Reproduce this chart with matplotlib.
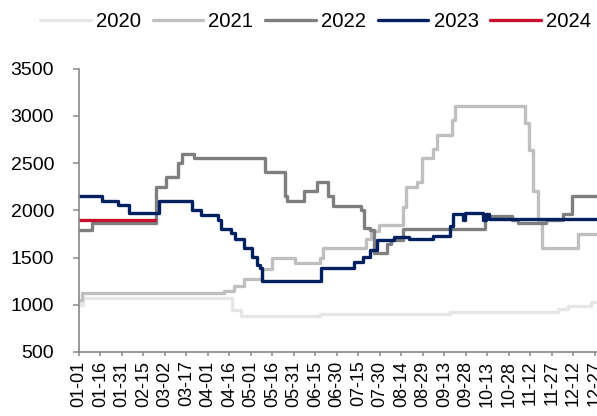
import matplotlib
matplotlib.use("Agg")
import matplotlib.pyplot as plt
import matplotlib.dates as mdates
from matplotlib.lines import Line2D
import datetime as dt

plt.rcParams['font.family'] = ['Liberation Sans', 'DejaVu Sans']

# ---- data: change points (MM-DD, value) for each year's step series ----
years = ["2020", "2021", "2022", "2023", "2024"]
colors = ["#E6E6E6", "#BFBFBF", "#7F7F7F", "#002060", "#C8102E"]

dates_2020 = ["01-01", "01-02", "01-04", "04-18", "04-24", "06-18", "09-17", "12-01", "12-08", "12-24", "12-31"]
vals_2020 = [1050, 1000, 1075, 940, 880, 900, 920, 960, 990, 1030, 1030]

dates_2021 = ["01-01", "01-03", "04-12", "04-19", "04-26", "05-09", "05-16", "06-01", "06-18", "06-20",
              "07-20", "07-24", "07-29", "08-15", "08-17", "08-25", "08-28", "09-05", "09-08", "09-18",
              "09-20", "11-08", "11-11", "11-14", "11-17", "11-20", "12-15", "12-31"]
vals_2021 = [1050, 1120, 1150, 1200, 1270, 1380, 1500, 1440, 1500, 1600,
             1700, 1780, 1840, 2030, 2250, 2300, 2550, 2650, 2800, 2950,
             3100, 2920, 2640, 2200, 1900, 1600, 1750, 1750]

dates_2022 = ["01-01", "01-10", "02-24", "03-03", "03-11", "03-14", "03-22", "05-11", "05-25", "05-26",
              "06-07", "06-16", "06-24", "06-27", "07-17", "07-19", "07-23", "07-26", "08-04", "08-07",
              "08-15", "10-11", "10-30", "11-03", "11-23", "12-05", "12-11", "12-31"]
vals_2022 = [1790, 1870, 2250, 2350, 2500, 2600, 2550, 2400, 2150, 2100,
             2200, 2300, 2150, 2050, 2000, 1810, 1790, 1550, 1640, 1690,
             1800, 1940, 1900, 1860, 1900, 1960, 2150, 2150]

dates_2023 = ["01-01", "01-17", "01-28", "02-05", "02-26", "03-21", "03-27", "04-08", "04-10", "04-17",
              "04-20", "04-26", "05-02", "05-05", "05-07", "05-09", "06-19", "07-12", "07-18", "07-23",
              "07-28", "08-09", "08-19", "09-05", "09-17", "09-19", "09-26", "09-27", "10-10", "10-12",
              "10-14", "12-31"]
vals_2023 = [2150, 2100, 2060, 1970, 2100, 2000, 1950, 1900, 1800, 1760,
             1700, 1600, 1510, 1420, 1390, 1250, 1390, 1450, 1510, 1580,
             1680, 1720, 1700, 1725, 1830, 1960, 1900, 1975, 1900, 1960,
             1910, 1910]

dates_2024 = ["01-01", "02-23"]
vals_2024 = [1900, 1900]

tick_labels = ["01-01", "01-16", "01-31", "02-15", "03-02", "03-17", "04-01", "04-16", "05-01",
               "05-16", "05-31", "06-15", "06-30", "07-15", "07-30", "08-14", "08-29", "09-13",
               "09-28", "10-13", "10-28", "11-12", "11-27", "12-12", "12-27"]
y_ticks = [500, 1000, 1500, 2000, 2500, 3000, 3500]

BASE_YEAR = 2023  # common non-leap year used to place month-day values


def to_dt(md):
    m, d = md.split("-")
    return dt.datetime(BASE_YEAR, int(m), int(d))


series = [(dates_2020, vals_2020), (dates_2021, vals_2021), (dates_2022, vals_2022),
          (dates_2023, vals_2023), (dates_2024, vals_2024)]

fig = plt.figure(figsize=(5.97, 4.16), dpi=100)
ax = fig.add_axes([79 / 597, 1 - 352 / 416, (600.7 - 79) / 597, (352 - 68.5) / 416])

lw = 2.4
for (ds, vs), c in zip(series, colors):
    ax.plot([to_dt(s) for s in ds], vs, drawstyle="steps-post", color=c, lw=lw,
            solid_joinstyle="round", solid_capstyle="round")

ax.set_ylim(500, 3500)
ax.set_yticks(y_ticks)
ax.set_xlim(to_dt("01-01"), to_dt("12-31"))
ax.set_xticks([to_dt(s) for s in tick_labels])
ax.set_xticklabels(tick_labels, rotation=90, fontsize=13)
ax.tick_params(axis="y", labelsize=14, length=4.5, width=1.1, color="#888888", pad=13.5)
ax.tick_params(axis="x", length=3.2, width=1.1, color="#888888", pad=3)

for side in ["top", "right"]:
    ax.spines[side].set_visible(False)
for side in ["left", "bottom"]:
    ax.spines[side].set_color("#888888")
    ax.spines[side].set_linewidth(1.2)

handles = [Line2D([0], [0], color=c, lw=lw, solid_capstyle="round") for c in colors]
fig.legend(handles, years, loc="center", bbox_to_anchor=(315.7 / 597, 1 - 21.3 / 416),
           ncol=5, frameon=False, fontsize=14.6, handlelength=2.5, handletextpad=0.25,
           columnspacing=0.58, borderpad=0, borderaxespad=0)

fig.savefig("out.png", dpi=100)
